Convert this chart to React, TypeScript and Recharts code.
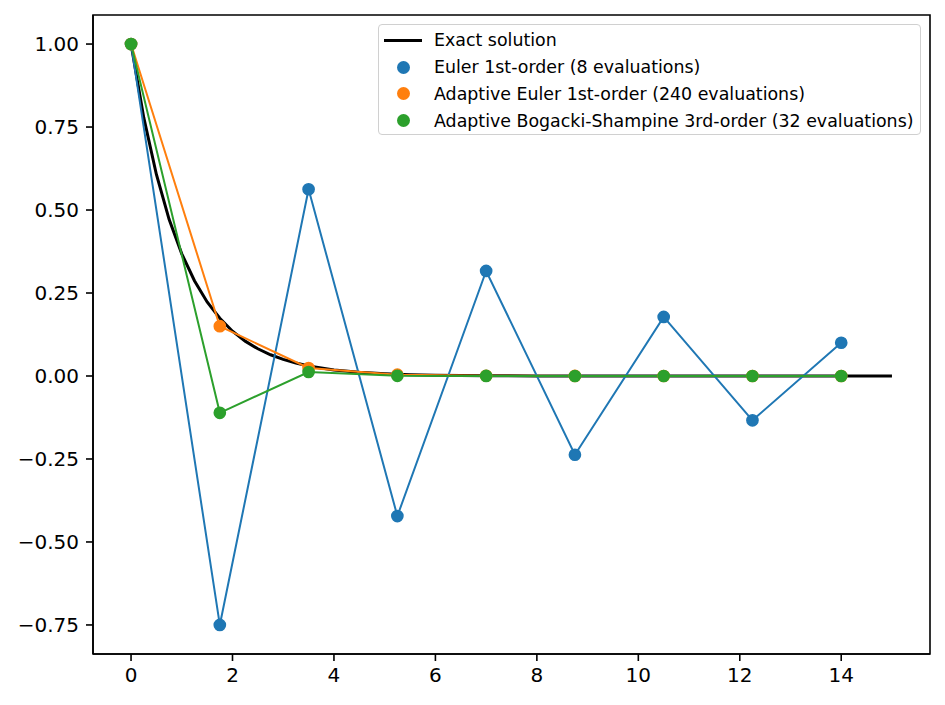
import { ComposedChart, Line, XAxis, YAxis, ReferenceArea } from "recharts";

// colores por defecto de matplotlib
const NEGRO = "#000000";
const AZUL = "#1f77b4";
const NARANJA = "#ff7f0e";
const VERDE = "#2ca02c";

// tiempos donde se evaluan los metodos
const tiempos = [0, 1.75, 3.5, 5.25, 7, 8.75, 10.5, 12.25, 14];

// valores
const euler = [1, -0.75, 0.5625, -0.4219, 0.3164, -0.2373, 0.178, -0.1335, 0.1001];
const eulerAdaptivo = [1, 0.15, 0.024, 0.004, 0.0007, 0.0001, 0, 0, 0];
const bogacki = [1, -0.111, 0.012, 0.0005, 0.0001, 0, 0, 0, 0];

// solucion exacta (curva)
const tiemposExacta = [0, 0.25, 0.5, 0.75, 1, 1.25, 1.5, 1.75, 2, 2.25, 2.5, 2.75, 3, 3.25, 3.5, 3.75, 4, 4.5, 5, 5.5, 6, 7, 8, 9, 10, 11, 12, 13, 14, 15];
const exacta = [1, 0.779, 0.607, 0.472, 0.368, 0.287, 0.223, 0.174, 0.135, 0.105, 0.082, 0.064, 0.05, 0.039, 0.03, 0.024, 0.018, 0.011, 0.007, 0.004, 0.0025, 0.0009, 0.0003, 0.0001, 0, 0, 0, 0, 0, 0];

const ticksX = [0, 2, 4, 6, 8, 10, 12, 14];
const ticksY = [-0.75, -0.5, -0.25, 0, 0.25, 0.5, 0.75, 1.0];

const etiquetas = [
    "Exact solution",
    "Euler 1st-order (8 evaluations)",
    "Adaptive Euler 1st-order (240 evaluations)",
    "Adaptive Bogacki-Shampine 3rd-order (32 evaluations)",
];

const X_MIN = -0.75;
const X_MAX = 15.75;
const Y_MIN = -0.8375;
const Y_MAX = 1.0875;

function aPuntos(xs: number[], ys: number[]) {
    return xs.map((x, i) => ({ x, y: ys[i] }));
}

const FUENTE = "'DejaVu Sans', sans-serif";

function formatoY(v: number) {
    return v.toFixed(2).replace("-", "\u2212");
}

export default function App() {
    const datosExacta = aPuntos(tiemposExacta, exacta);
    const datosEuler = aPuntos(tiempos, euler);
    const datosAdaptivo = aPuntos(tiempos, eulerAdaptivo);
    const datosBogacki = aPuntos(tiempos, bogacki);

    const estiloTick = { fill: "#000", fontSize: 20, fontFamily: FUENTE };
    const lineaEje = { stroke: "#000", strokeWidth: 1.6 };

    const colores = [NEGRO, AZUL, NARANJA, VERDE];

    return (
        <div style={{ position: "absolute", left: 0, top: 0, width: 945, height: 705, background: "#fff" }}>
            <ComposedChart width={945} height={705} margin={{ top: 15, right: 15, bottom: 0, left: 0 }}>
                <XAxis
                    dataKey="x"
                    type="number"
                    domain={[X_MIN, X_MAX]}
                    ticks={ticksX}
                    tick={estiloTick}
                    tickLine={lineaEje}
                    axisLine={lineaEje}
                    tickSize={7}
                    tickMargin={7}
                    height={51}
                    allowDataOverflow
                />
                <YAxis
                    type="number"
                    domain={[Y_MIN, Y_MAX]}
                    ticks={ticksY}
                    tickFormatter={formatoY}
                    tick={estiloTick}
                    tickLine={lineaEje}
                    axisLine={lineaEje}
                    tickSize={7}
                    tickMargin={7}
                    width={93}
                    allowDataOverflow
                />
                <Line data={datosExacta} dataKey="y" type="linear" stroke={NEGRO} strokeWidth={3}
                    dot={false} activeDot={false} isAnimationActive={false} />
                <Line data={datosEuler} dataKey="y" type="linear" stroke={AZUL} strokeWidth={2}
                    dot={{ r: 5.6, fill: AZUL, stroke: AZUL, strokeWidth: 1.5 }} activeDot={false} isAnimationActive={false} />
                <Line data={datosAdaptivo} dataKey="y" type="linear" stroke={NARANJA} strokeWidth={2}
                    dot={{ r: 5.6, fill: NARANJA, stroke: NARANJA, strokeWidth: 1.5 }} activeDot={false} isAnimationActive={false} />
                <Line data={datosBogacki} dataKey="y" type="linear" stroke={VERDE} strokeWidth={2}
                    dot={{ r: 5.6, fill: VERDE, stroke: VERDE, strokeWidth: 1.5 }} activeDot={false} isAnimationActive={false} />
                {/* marco completo del area de dibujo */}
                <ReferenceArea x1={X_MIN} x2={X_MAX} y1={Y_MIN} y2={Y_MAX}
                    fill="none" fillOpacity={0} stroke="#000" strokeWidth={1.6} ifOverflow="visible" />
            </ComposedChart>

            {/* leyenda hecha a mano, como la de matplotlib */}
            <div style={{
                position: "absolute",
                left: 378,
                top: 24,
                width: 541,
                height: 109,
                border: "1.5px solid #d0d0d0",
                borderRadius: 4,
                background: "rgba(255,255,255,0.8)",
                fontFamily: FUENTE,
                fontSize: 17.4,
                color: "#000",
            }}>
                {etiquetas.map((texto, i) => (
                    <div key={texto} style={{
                        position: "absolute",
                        left: 0,
                        top: 15.3 + i * 26.8 - 13,
                        height: 26,
                        lineHeight: "26px",
                        whiteSpace: "nowrap",
                    }}>
                        {i === 0 ? (
                            <span style={{ position: "absolute", left: 5, top: 11.5, width: 38, height: 3, background: colores[i] }} />
                        ) : (
                            <span style={{ position: "absolute", left: 17.5, top: 6.5, width: 13, height: 13, borderRadius: "50%", background: colores[i] }} />
                        )}
                        <span style={{ position: "absolute", left: 55 }}>{texto}</span>
                    </div>
                ))}
            </div>
        </div>
    );
}
